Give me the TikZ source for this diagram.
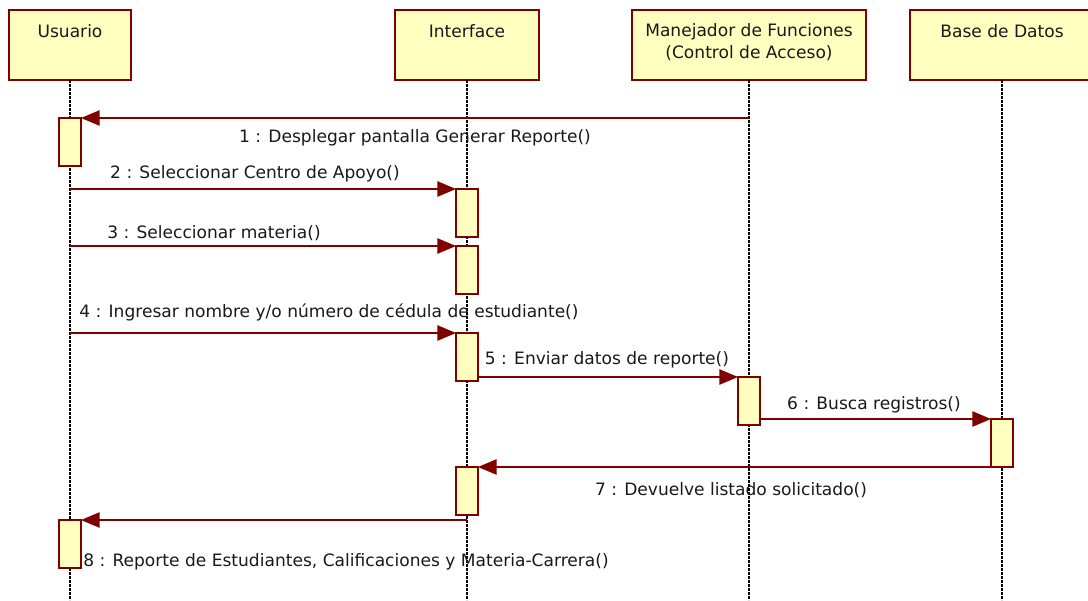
\documentclass[tikz,border=0pt]{standalone}
\usepackage{fontspec}
\setmainfont{DejaVu Sans}
\usetikzlibrary{arrows.meta}
\definecolor{roseink}{RGB}{128, 0, 0}
\definecolor{rosefill}{RGB}{255, 255, 192}

\begin{document}
\begin{tikzpicture}[x=0.75pt, y=-0.75pt, font=\fontsize{12.8}{17}\selectfont,
  head/.style={draw=roseink, fill=rosefill, line width=1.5pt, anchor=north, minimum height=52.5pt, inner sep=0pt, outer sep=0pt},
  act/.style={draw=roseink, fill=rosefill, line width=1.5pt, anchor=north, minimum width=16.5pt, minimum height=36pt, inner sep=0pt, outer sep=0pt},
  life/.style={dash pattern=on 2pt off 1pt, line width=0.8pt},
  msg/.style={color=roseink, line width=1.1pt, -{Triangle[length=14pt, width=11.5pt]}},
  lbl/.style={inner sep=0pt, text=black!90}]
  \useasboundingbox (0,0) rectangle (1088,600);
  % object heads
  \node[head, minimum width=92pt] (usr) at (70,10) {};
  \node[head, minimum width=108pt] (ifc) at (467,10) {};
  \node[head, minimum width=175.5pt] (mgr) at (749,10) {};
  \node[head, minimum width=138pt] (bdd) at (1002,10) {};
  \node[lbl] (usrT) at (70,31) {Usuario};
  \node[lbl] (ifcT) at (467,31) {Interface};
  \node[lbl, align=center] (mgrT) at (749,42) {Manejador de Funciones\\(Control de Acceso)};
  \node[lbl] (bddT) at (1002,31) {Base de Datos};
  % lifelines
  \foreach \o in {usr, ifc, mgr, bdd}
    \draw[life] (\o.south) -- (\o.south |- 0,600);
  % activations
  \node[act] (u1) at (usr.south |- 0,118) {};
  \node[act] (i1) at (ifc.south |- 0,189) {};
  \node[act] (i2) at (ifc.south |- 0,246) {};
  \node[act] (i3) at (ifc.south |- 0,333) {};
  \node[act] (m1) at (mgr.south |- 0,377) {};
  \node[act] (b1) at (bdd.south |- 0,419) {};
  \node[act] (i4) at (ifc.south |- 0,467) {};
  \node[act] (u2) at (usr.south |- 0,520) {};
  % messages
  \draw[msg] (mgr.south |- u1.north) -- (u1.north east);
  \draw[msg] (usr.south |- i1.north) -- (i1.north west);
  \draw[msg] (usr.south |- i2.north) -- (i2.north west);
  \draw[msg] (usr.south |- i3.north) -- (i3.north west);
  \draw[msg] (i3.east |- m1.north) -- (m1.north west);
  \draw[msg] (m1.east |- b1.north) -- (b1.north west);
  \draw[msg] (b1.south west) -- (i4.north east);
  \draw[msg] (ifc.south |- u2.north) -- (u2.north east);
  % message texts
  \node[lbl] (t1) at (415,138) {1 : Desplegar pantalla Generar Reporte()};
  \node[lbl] (t2) at (255,174) {2 : Seleccionar Centro de Apoyo()};
  \node[lbl] (t3) at (214,233) {3 : Seleccionar materia()};
  \node[lbl] (t4) at (329,312) {4 : Ingresar nombre y/o número de cédula de estudiante()};
  \node[lbl] (t5) at (607,360) {5 : Enviar datos de reporte()};
  \node[lbl] (t6) at (874,405) {6 : Busca registros()};
  \node[lbl] (t7) at (731,490) {7 : Devuelve listado solicitado()};
  \node[lbl] (t8) at (346,562) {8 : Reporte de Estudiantes, Calificaciones y Materia-Carrera()};
\end{tikzpicture}
\end{document}
